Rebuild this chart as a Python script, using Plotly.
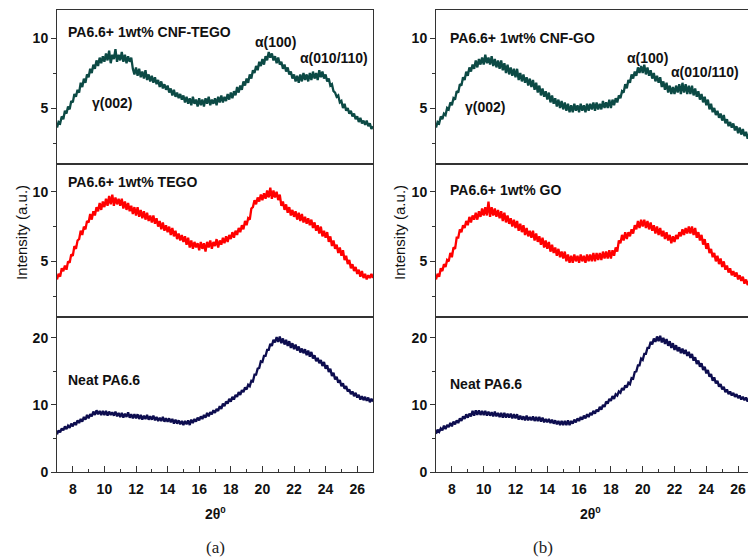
import plotly.graph_objects as go

# 2-theta sampling grid (degrees)
two_theta = [round(7 + 0.1 * i, 1) for i in range(201)]

# panel (a)
cnf_tego = [
    3.6, 4.0, 3.9, 4.4, 4.2, 4.8, 4.6, 5.1, 4.9, 5.5,
    5.4, 6.0, 5.8, 6.3, 6.1, 6.8, 6.5, 7.1, 6.8, 7.4,
    7.2, 7.8, 7.5, 8.1, 7.8, 8.4, 8.0, 8.6, 8.2, 8.7,
    8.3, 8.9, 8.4, 9.1, 8.2, 8.8, 8.5, 9.2, 8.3, 8.8,
    8.4, 9.0, 8.3, 8.8, 8.2, 8.7, 8.3, 8.6, 7.8, 7.4,
    7.9, 7.3, 7.8, 7.2, 7.6, 7.1, 7.7, 7.0, 7.4, 6.9,
    7.3, 6.8, 7.2, 6.7, 7.0, 6.5, 6.9, 6.4, 6.7, 6.3,
    6.6, 6.1, 6.4, 5.9, 6.3, 5.8, 6.1, 5.7, 6.0, 5.6,
    5.9, 5.4, 5.8, 5.3, 5.7, 5.2, 5.8, 5.3, 5.6, 5.1,
    5.7, 5.2, 5.6, 5.1, 5.7, 5.3, 5.8, 5.2, 5.6, 5.3,
    5.7, 5.2, 5.8, 5.4, 5.9, 5.4, 5.8, 5.5, 6.0, 5.6,
    6.1, 5.7, 6.2, 5.9, 6.5, 6.1, 6.6, 6.3, 6.9, 6.6,
    7.1, 6.8, 7.4, 7.1, 7.7, 7.5, 8.0, 7.7, 8.3, 8.0,
    8.5, 8.1, 8.7, 8.4, 9.0, 8.6, 8.9, 8.4, 8.7, 8.2,
    8.6, 8.1, 8.3, 7.8, 8.1, 7.6, 7.9, 7.4, 7.6, 7.1,
    7.4, 6.9, 7.3, 6.8, 7.4, 6.9, 7.5, 7.0, 7.4, 6.9,
    7.5, 7.0, 7.6, 7.1, 7.5, 7.0, 7.7, 7.2, 7.6, 7.1,
    7.4, 6.9, 7.1, 6.6, 6.7, 6.2, 6.1, 5.8, 5.9, 5.4,
    5.5, 5.0, 5.3, 4.8, 5.0, 4.6, 4.8, 4.4, 4.6, 4.2,
    4.4, 4.0, 4.3, 3.9, 4.1, 3.8, 4.1, 3.7, 3.9, 3.5,
    3.7,
]
tego = [
    3.7, 4.1, 3.9, 4.5, 4.3, 4.7, 4.4, 5.0, 4.9, 5.5,
    5.4, 6.1, 5.9, 6.5, 6.6, 7.2, 6.9, 7.5, 7.3, 7.9,
    7.8, 8.4, 8.0, 8.6, 8.3, 8.9, 8.6, 9.2, 8.7, 9.3,
    8.9, 9.5, 9.0, 9.7, 9.1, 9.8, 9.0, 9.6, 9.1, 9.5,
    9.0, 9.5, 8.8, 9.3, 8.7, 9.2, 8.6, 9.0, 8.4, 8.9,
    8.3, 8.9, 8.2, 8.7, 8.1, 8.6, 8.0, 8.5, 7.9, 8.3,
    7.8, 8.3, 7.7, 8.1, 7.5, 7.9, 7.3, 7.8, 7.2, 7.6,
    7.1, 7.5, 6.9, 7.4, 6.8, 7.2, 6.6, 7.0, 6.5, 6.9,
    6.4, 6.8, 6.2, 6.7, 6.0, 6.5, 5.9, 6.4, 6.0, 6.3,
    5.8, 6.4, 5.9, 6.3, 5.7, 6.4, 6.0, 6.5, 5.9, 6.4,
    6.1, 6.6, 6.0, 6.5, 6.2, 6.7, 6.3, 6.8, 6.4, 6.9,
    6.6, 7.1, 6.7, 7.2, 6.9, 7.4, 7.1, 7.6, 7.3, 7.9,
    7.6, 8.1, 8.0, 8.8, 8.9, 9.4, 9.1, 9.6, 9.3, 9.8,
    9.4, 9.9, 9.5, 10.1, 9.6, 10.3, 9.5, 10.1, 9.6, 10.0,
    9.4, 9.8, 9.0, 9.3, 8.7, 9.1, 8.5, 8.9, 8.3, 8.7,
    8.2, 8.6, 8.0, 8.5, 7.9, 8.4, 7.8, 8.2, 7.7, 8.1,
    7.6, 8.0, 7.4, 7.8, 7.2, 7.6, 7.0, 7.5, 6.8, 7.2,
    6.7, 7.1, 6.4, 6.8, 6.1, 6.5, 5.9, 6.2, 5.6, 6.0,
    5.4, 5.8, 5.1, 5.4, 4.8, 5.1, 4.5, 4.8, 4.3, 4.6,
    4.1, 4.4, 3.9, 4.3, 3.8, 4.1, 3.7, 4.0, 3.8, 4.1,
    3.8,
]
neat_a = [
    5.6, 6.2, 5.9, 6.5, 6.2, 6.8, 6.4, 6.9, 6.6, 7.2,
    6.8, 7.4, 7.0, 7.7, 7.3, 7.9, 7.5, 8.2, 7.8, 8.5,
    8.0, 8.6, 8.3, 9.0, 8.5, 9.2, 8.6, 9.1, 8.5, 9.1,
    8.5, 9.1, 8.4, 9.0, 8.5, 8.9, 8.4, 9.0, 8.3, 8.8,
    8.2, 8.8, 8.1, 8.7, 8.2, 8.9, 8.1, 8.6, 8.0, 8.6,
    8.0, 8.6, 7.9, 8.5, 7.8, 8.4, 7.9, 8.5, 7.8, 8.3,
    7.8, 8.4, 7.7, 8.2, 7.6, 8.1, 7.6, 8.2, 7.5, 8.0,
    7.5, 8.0, 7.4, 7.9, 7.2, 7.8, 7.2, 7.7, 7.1, 7.6,
    7.0, 7.6, 7.1, 7.7, 7.0, 7.8, 7.3, 7.9, 7.5, 8.1,
    7.7, 8.3, 7.9, 8.5, 8.1, 8.8, 8.3, 8.9, 8.6, 9.2,
    8.8, 9.4, 9.1, 9.8, 9.4, 10.2, 9.8, 10.5, 10.2, 10.9,
    10.5, 11.2, 10.8, 11.5, 11.2, 11.9, 11.5, 12.2, 11.9, 12.6,
    12.3, 13.0, 12.8, 13.6, 13.5, 14.5, 14.5, 15.4, 15.5, 16.5,
    16.4, 17.3, 17.3, 18.2, 18.2, 19.1, 18.8, 19.7, 19.3, 20.1,
    19.4, 20.2, 19.2, 19.9, 19.0, 19.7, 18.8, 19.5, 18.5, 19.2,
    18.3, 19.0, 18.1, 18.7, 17.8, 18.4, 17.7, 18.3, 17.4, 18.1,
    17.2, 17.9, 16.9, 17.4, 16.5, 17.0, 16.2, 16.7, 15.8, 16.4,
    15.4, 15.9, 14.9, 15.4, 14.3, 14.8, 13.8, 14.2, 13.3, 13.7,
    12.8, 13.2, 12.4, 12.8, 12.0, 12.3, 11.6, 12.0, 11.3, 11.8,
    11.1, 11.5, 10.8, 11.3, 10.7, 11.2, 10.6, 11.1, 10.4, 10.9,
    10.5,
]

# panel (b)
cnf_go = [
    3.6, 4.0, 3.9, 4.4, 4.2, 4.6, 4.5, 5.0, 4.9, 5.4,
    5.2, 5.7, 5.6, 6.2, 6.1, 6.7, 6.6, 7.2, 7.0, 7.6,
    7.3, 7.9, 7.6, 8.1, 7.8, 8.4, 7.9, 8.5, 8.1, 8.6,
    8.1, 8.8, 8.2, 8.6, 8.1, 8.7, 8.0, 8.5, 7.9, 8.4,
    7.8, 8.4, 7.7, 8.2, 7.5, 8.1, 7.4, 7.9, 7.3, 7.8,
    7.2, 7.8, 7.0, 7.5, 6.9, 7.4, 6.8, 7.2, 6.6, 7.1,
    6.5, 7.0, 6.3, 6.8, 6.1, 6.6, 5.9, 6.4, 5.8, 6.2,
    5.6, 6.1, 5.4, 5.9, 5.3, 5.7, 5.1, 5.6, 5.0, 5.5,
    4.9, 5.4, 4.8, 5.3, 4.7, 5.2, 4.7, 5.3, 4.8, 5.2,
    4.7, 5.3, 4.8, 5.2, 4.7, 5.3, 4.8, 5.3, 4.9, 5.4,
    4.8, 5.4, 4.9, 5.3, 4.9, 5.5, 5.0, 5.4, 5.0, 5.6,
    5.0, 5.6, 5.2, 5.7, 5.4, 5.9, 5.7, 6.2, 6.1, 6.7,
    6.4, 7.0, 6.8, 7.4, 7.1, 7.6, 7.3, 7.9, 7.5, 8.0,
    7.5, 8.1, 7.4, 7.9, 7.3, 7.7, 7.1, 7.5, 6.9, 7.3,
    6.8, 7.2, 6.5, 6.9, 6.3, 6.8, 6.1, 6.6, 6.0, 6.5,
    6.0, 6.6, 6.1, 6.7, 6.0, 6.8, 6.1, 6.7, 6.0, 6.6,
    6.0, 6.6, 5.9, 6.4, 5.8, 6.2, 5.6, 6.0, 5.4, 5.8,
    5.2, 5.6, 4.9, 5.3, 4.7, 5.0, 4.5, 4.8, 4.3, 4.6,
    4.1, 4.5, 3.9, 4.2, 3.7, 4.0, 3.6, 3.9, 3.4, 3.7,
    3.2, 3.6, 3.1, 3.5, 3.0, 3.3, 2.8, 3.2, 2.9, 3.2,
    3.0,
]
go_1wt = [
    3.7, 4.1, 3.9, 4.5, 4.3, 4.8, 4.6, 5.1, 5.0, 5.6,
    5.3, 6.0, 5.9, 6.7, 6.7, 7.3, 7.1, 7.6, 7.4, 7.9,
    7.6, 8.2, 7.8, 8.3, 8.0, 8.5, 8.0, 8.6, 8.2, 8.8,
    8.3, 8.9, 8.3, 9.3, 8.2, 8.9, 8.3, 8.8, 8.2, 8.7,
    8.1, 8.6, 7.9, 8.5, 7.8, 8.3, 7.7, 8.1, 7.5, 8.0,
    7.4, 7.9, 7.2, 7.7, 7.1, 7.6, 6.9, 7.4, 6.8, 7.2,
    6.7, 7.2, 6.5, 7.0, 6.4, 6.8, 6.2, 6.7, 6.0, 6.5,
    5.9, 6.4, 5.7, 6.2, 5.6, 6.0, 5.4, 5.9, 5.3, 5.7,
    5.2, 5.7, 5.0, 5.5, 4.9, 5.4, 4.9, 5.5, 5.0, 5.4,
    4.9, 5.5, 5.0, 5.4, 4.9, 5.5, 5.0, 5.5, 5.0, 5.6,
    5.0, 5.6, 5.1, 5.6, 5.1, 5.7, 5.2, 5.7, 5.2, 5.8,
    5.2, 5.8, 5.4, 6.0, 5.7, 6.5, 6.3, 6.9, 6.5, 7.1,
    6.6, 7.1, 6.8, 7.3, 7.0, 7.6, 7.3, 7.9, 7.4, 8.0,
    7.5, 8.0, 7.4, 7.9, 7.3, 7.8, 7.2, 7.6, 7.0, 7.5,
    6.9, 7.4, 6.8, 7.2, 6.6, 7.1, 6.5, 6.9, 6.3, 6.8,
    6.4, 6.9, 6.6, 7.1, 6.8, 7.3, 6.9, 7.4, 7.0, 7.5,
    7.0, 7.5, 6.9, 7.4, 6.7, 7.1, 6.5, 6.9, 6.2, 6.6,
    5.9, 6.3, 5.6, 5.9, 5.3, 5.6, 5.0, 5.4, 4.8, 5.2,
    4.6, 5.0, 4.4, 4.7, 4.2, 4.5, 4.0, 4.3, 3.9, 4.2,
    3.7, 4.0, 3.6, 3.9, 3.4, 3.7, 3.3, 3.6, 3.2, 3.5,
    3.2,
]
neat_b = [
    5.7, 6.3, 6.0, 6.5, 6.2, 6.9, 6.4, 7.0, 6.7, 7.3,
    6.8, 7.5, 7.1, 7.7, 7.3, 8.0, 7.6, 8.3, 7.9, 8.6,
    8.1, 8.7, 8.3, 9.1, 8.4, 9.2, 8.5, 9.2, 8.5, 9.1,
    8.5, 9.1, 8.4, 9.0, 8.4, 8.9, 8.3, 9.0, 8.3, 8.8,
    8.2, 8.8, 8.1, 8.8, 8.1, 8.7, 8.1, 8.7, 8.0, 8.6,
    8.0, 8.6, 7.8, 8.4, 7.8, 8.3, 7.7, 8.4, 7.7, 8.2,
    7.7, 8.3, 7.6, 8.2, 7.6, 8.2, 7.5, 8.1, 7.4, 7.9,
    7.4, 7.9, 7.3, 7.8, 7.2, 7.7, 7.1, 7.6, 7.0, 7.6,
    7.0, 7.6, 7.0, 7.7, 7.0, 7.6, 7.2, 7.8, 7.4, 8.0,
    7.6, 8.2, 7.8, 8.4, 8.0, 8.6, 8.2, 8.8, 8.5, 9.1,
    8.7, 9.3, 9.0, 9.7, 9.3, 10.0, 9.7, 10.5, 10.2, 10.9,
    10.6, 11.3, 10.9, 11.6, 11.4, 12.0, 11.8, 12.5, 12.2, 12.9,
    12.6, 13.3, 13.1, 14.0, 13.9, 14.9, 15.0, 15.9, 15.9, 16.9,
    16.7, 17.6, 17.6, 18.5, 18.5, 19.4, 19.0, 19.9, 19.4, 20.2,
    19.5, 20.3, 19.3, 20.0, 19.1, 19.8, 18.8, 19.5, 18.5, 19.2,
    18.2, 18.9, 18.0, 18.6, 17.7, 18.4, 17.6, 18.2, 17.3, 17.9,
    17.0, 17.6, 16.6, 17.1, 16.1, 16.6, 15.7, 16.2, 15.2, 15.7,
    14.7, 15.2, 14.2, 14.6, 13.6, 14.1, 13.2, 13.6, 12.7, 13.1,
    12.3, 12.7, 11.9, 12.3, 11.6, 12.0, 11.4, 11.8, 11.2, 11.6,
    11.0, 11.4, 10.8, 11.2, 10.7, 11.1, 10.5, 11.0, 10.4, 10.9,
    10.6,
]

TEAL = "#0c4a45"
RED = "#ff0000"
NAVY = "#0d0d4f"
W, H = 748, 557


def px_x(p):
    return p / W


def px_y(p):
    return 1 - p / H


# (series, colour, axis suffix)
series = [
    (cnf_tego, TEAL, ""), (tego, RED, "2"), (neat_a, NAVY, "3"),
    (cnf_go, TEAL, "4"), (go_1wt, RED, "5"), (neat_b, NAVY, "6"),
]

fig = go.Figure()
for ys, col, ax in series:
    fig.add_trace(go.Scatter(
        x=two_theta, y=ys, mode="lines",
        line=dict(color=col, width=2.3),
        xaxis="x" + ax, yaxis="y" + ax, showlegend=False,
        hoverinfo="skip",
    ))

tick_font = dict(family="Liberation Sans, Arial", size=14, color="#111",
                 weight="bold")
label_font = dict(family="Liberation Sans, Arial", size=14, color="#111")
AX = "#333"

xdom_a = [px_x(57), px_x(373)]
xdom_b = [px_x(436), 1.0]
ydoms = [[px_y(164), px_y(10)], [px_y(317), px_y(164)], [px_y(472), px_y(317)]]
yranges = [[1, 12], [1, 12], [0, 23.1]]

layout = dict(
    width=W, height=H, margin=dict(l=0, r=0, t=0, b=0),
    plot_bgcolor="white", paper_bgcolor="white",
)

for pi, (xdom, xr, mirror_y) in enumerate([
        (xdom_a, [7, 27], True), (xdom_b, [7, 7 + 312 / 15.9], False)]):
    for row in range(3):
        n = pi * 3 + row + 1
        xk = "xaxis" if n == 1 else f"xaxis{n}"
        yk = "yaxis" if n == 1 else f"yaxis{n}"
        ysfx = "y" if n == 1 else f"y{n}"
        xsfx = "x" if n == 1 else f"x{n}"
        bottom = row == 2
        layout[xk] = dict(
            domain=xdom, range=xr, anchor=ysfx, automargin=False,
            showline=True, linecolor=AX, linewidth=1, mirror=True,
            showgrid=False, zeroline=False,
            ticks="inside" if bottom else "", ticklen=6, tickwidth=1,
            tickcolor=AX, dtick=2, tick0=8,
            showticklabels=bottom, tickfont=tick_font,
            ticklabeloverflow="allow", ticklabelstandoff=4,
            minor=dict(ticks="inside" if bottom else "", ticklen=3,
                       dtick=1, tick0=7, tickcolor=AX),
        )
        dt = 10 if bottom else 5
        layout[yk] = dict(
            domain=ydoms[row], range=yranges[row], anchor=xsfx,
            automargin=False,
            showline=True, linecolor=AX, linewidth=1, mirror=mirror_y,
            showgrid=False, zeroline=False,
            ticks="outside", ticklen=5, tickwidth=1, tickcolor=AX,
            dtick=dt, tick0=0, tickfont=tick_font,
            minor=dict(ticks="outside", ticklen=3, dtick=dt / 2,
                       tick0=0, tickcolor=AX),
        )

fig.update_layout(**layout)

# curve labels (text, x, y, axis suffix, anchor)
labels = [
    ("PA6.6+ 1wt% CNF-TEGO", 7.6, 10.4, "", "left"),
    ("α(100)", 20.8, 9.7, "", "center"),
    ("α(010/110)", 24.5, 8.6, "", "center"),
    ("γ(002)", 10.5, 5.35, "", "center"),
    ("PA6.6+ 1wt% TEGO", 7.6, 10.7, "2", "left"),
    ("Neat PA6.6", 7.6, 13.7, "3", "left"),
    ("PA6.6+ 1wt% CNF-GO", 7.75, 10.0, "4", "left"),
    ("α(100)", 20.3, 8.6, "4", "center"),
    ("α(010/110)", 23.9, 7.6, "4", "center"),
    ("γ(002)", 10.1, 5.1, "4", "center"),
    ("PA6.6+ 1wt% GO", 7.75, 10.1, "5", "left"),
    ("Neat PA6.6", 7.75, 13.1, "6", "left"),
]
for txt, x, y, ax, anc in labels:
    fig.add_annotation(
        text="<b>%s</b>" % txt, x=x, y=y, xref="x" + ax, yref="y" + ax,
        xanchor=anc, yanchor="middle", showarrow=False, font=label_font,
    )

# axis titles and panel letters
for xp in (22, 400):
    fig.add_annotation(
        text="Intensity (a.u.)", x=px_x(xp), y=px_y(233), xref="paper",
        yref="paper", textangle=-90, showarrow=False,
        xanchor="center", yanchor="middle",
        font=dict(family="Liberation Sans, Arial", size=15, color="#111"),
    )
for xp in (215, 590):
    fig.add_annotation(
        text="<b>2θ<sup>0</sup></b>", x=px_x(xp), y=px_y(513), xref="paper",
        yref="paper", showarrow=False, xanchor="center", yanchor="middle",
        font=label_font,
    )
for txt, xp in (("(a)", 215), ("(b)", 543)):
    fig.add_annotation(
        text=txt, x=px_x(xp), y=px_y(547), xref="paper", yref="paper",
        showarrow=False, xanchor="center", yanchor="middle",
        font=dict(family="Liberation Serif, Times New Roman", size=17,
                  color="#222"),
    )

# drop the default page margin so the figure fills the window exactly
fig.write_html(
    "out.html",
    config={"displayModeBar": False},
    post_script="document.body.style.margin='0';"
                "document.body.style.overflow='hidden';",
)
